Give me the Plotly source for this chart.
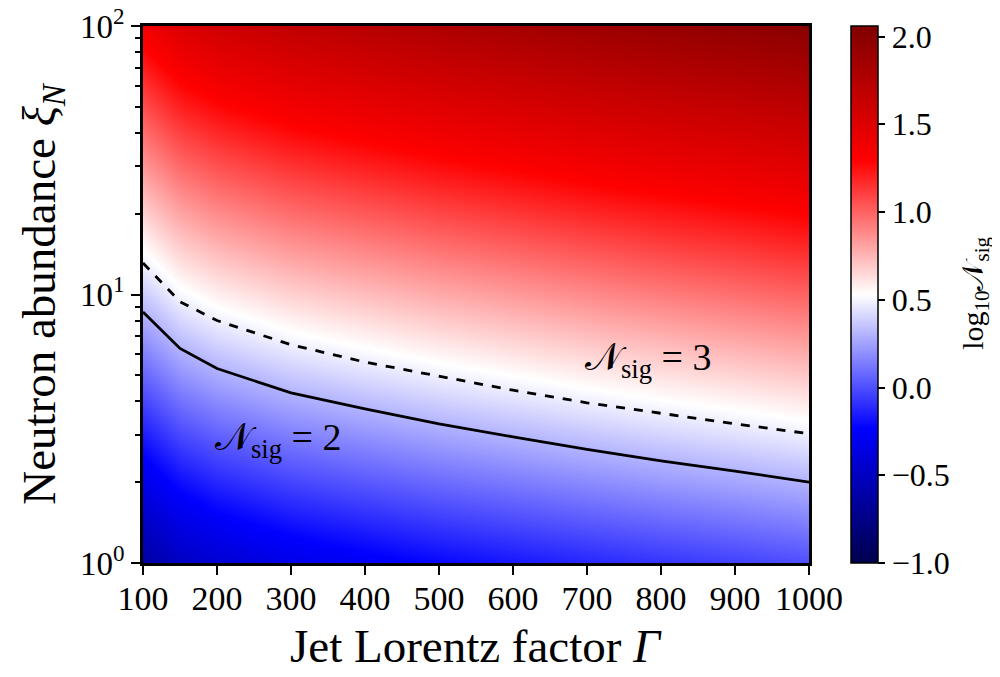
import plotly.graph_objects as go

# Grid of the heat map
gamma_grid = [100, 150, 200, 300, 400, 500, 600, 700, 800, 900, 1000]
xi_grid = [1.0, 3.162, 10.0, 31.62, 100.0]
log_nsig = [
    [-0.633, -0.498, -0.423, -0.332, -0.273, -0.217, -0.169, -0.122, -0.079, -0.041, 0.000],
    [-0.133, 0.002, 0.077, 0.168, 0.227, 0.283, 0.331, 0.378, 0.421, 0.459, 0.500],
    [0.367, 0.502, 0.577, 0.668, 0.727, 0.783, 0.831, 0.878, 0.921, 0.959, 1.000],
    [0.867, 1.002, 1.077, 1.168, 1.227, 1.283, 1.331, 1.378, 1.421, 1.459, 1.500],
    [1.367, 1.502, 1.577, 1.668, 1.727, 1.783, 1.831, 1.878, 1.921, 1.959, 2.000],
]

# Contour lines
gamma_c = [100, 150, 200, 300, 400, 500, 600, 700, 800, 900, 1000]
xi_nsig2 = [8.6, 6.3, 5.3, 4.3, 3.75, 3.3, 2.95, 2.65, 2.4, 2.2, 2.0]
xi_nsig3 = [13.1, 9.4, 8.0, 6.5, 5.6, 4.95, 4.4, 3.95, 3.6, 3.3, 3.03]

x_ticks = [100, 200, 300, 400, 500, 600, 700, 800, 900, 1000]
y_ticks = [1, 10, 100]
y_ticktext = ["10<sup>0</sup>", "10<sup>1</sup>", "10<sup>2</sup>"]
y_minor = [2, 3, 4, 5, 6, 7, 8, 9, 20, 30, 40, 50, 60, 70, 80, 90]
cb_ticks = [-1.0, -0.5, 0.0, 0.5, 1.0, 1.5, 2.0]
cb_ticktext = ["\u22121.0", "\u22120.5", "0.0", "0.5", "1.0", "1.5", "2.0"]

seismic = [
    [0.0, "rgb(0,0,77)"],
    [0.25, "rgb(0,0,255)"],
    [0.5, "rgb(255,255,255)"],
    [0.75, "rgb(255,0,0)"],
    [1.0, "rgb(128,0,0)"],
]

FONT = "Liberation Serif"

fig = go.Figure()
fig.add_trace(go.Heatmap(
    x=gamma_grid, y=xi_grid, z=log_nsig,
    colorscale=seismic, zmin=-1.0, zmax=2.06, zsmooth="best",
    colorbar=dict(
        x=1.048, xanchor="left", y=0, yanchor="bottom", len=1, lenmode="fraction",
        xpad=10, ypad=0,
        thickness=27, outlinewidth=1.5, outlinecolor="black",
        tickvals=cb_ticks, ticktext=cb_ticktext, ticks="outside", ticklen=7,
        tickwidth=1.5, tickcolor="black",
        tickfont=dict(family=FONT, size=32, color="black"),
    ),
    showscale=True, hoverinfo="skip",
))
fig.add_trace(go.Scatter(x=gamma_c, y=xi_nsig2, mode="lines",
                         line=dict(color="black", width=2.8), showlegend=False))
fig.add_trace(go.Scatter(x=gamma_c, y=xi_nsig3, mode="lines",
                         line=dict(color="black", width=2.8, dash="dash"), showlegend=False))

fig.add_annotation(x=283, y=0.458, yref="y", text="\U0001D4A9<sub>sig</sub> = 2", showarrow=False,
                   font=dict(family=FONT, size=38, color="black"))
fig.add_annotation(x=783, y=0.756, yref="y", text="\U0001D4A9<sub>sig</sub> = 3", showarrow=False,
                   font=dict(family=FONT, size=38, color="black"))

# Axis title for x and colour-bar title as text annotations (placed in the margins)
fig.add_annotation(x=0.5, y=-0.1546, xref="paper", yref="paper",
                   text="Jet Lorentz factor <i>\u0393</i>", showarrow=False,
                   xanchor="center", yanchor="middle",
                   font=dict(family=FONT, size=47, color="black"))
fig.add_annotation(x=1.2492, y=0.503, xref="paper", yref="paper",
                   text="log<sub>10</sub>\U0001D4A9<sub>sig</sub>", showarrow=False,
                   textangle=-90, xanchor="center", yanchor="middle",
                   font=dict(family=FONT, size=30, color="black"))

fig.update_layout(
    width=984, height=661,
    margin=dict(l=135, r=183, t=18, b=106, autoexpand=False),
    plot_bgcolor="white", paper_bgcolor="white",
    showlegend=False,
    xaxis=dict(
        range=[100, 1000], tickvals=x_ticks, ticks="outside", ticklen=9, tickwidth=2,
        tickcolor="black", showgrid=False, zeroline=False, automargin=False,
        showline=True, linecolor="black", linewidth=2.5, mirror=True,
        ticklabeloverflow="allow", ticklabelstandoff=-6,
        tickfont=dict(family=FONT, size=34, color="black"),
    ),
    yaxis=dict(
        type="log", range=[0, 2], tickvals=y_ticks, ticktext=y_ticktext,
        ticks="outside", ticklen=9, tickwidth=2, tickcolor="black",
        ticklabeloverflow="allow", automargin=False,
        minor=dict(tickvals=y_minor, ticks="outside", ticklen=5, tickwidth=1.5,
                   tickcolor="black", showgrid=False),
        showgrid=False, zeroline=False,
        showline=True, linecolor="black", linewidth=2.5, mirror=True,
        tickfont=dict(family=FONT, size=33, color="black"),
        title=dict(text="Neutron abundance <i>\u03be<sub>N</sub></i>", standoff=10,
                   font=dict(family=FONT, size=47, color="black")),
    ),
)

fig.write_html("out.html")
